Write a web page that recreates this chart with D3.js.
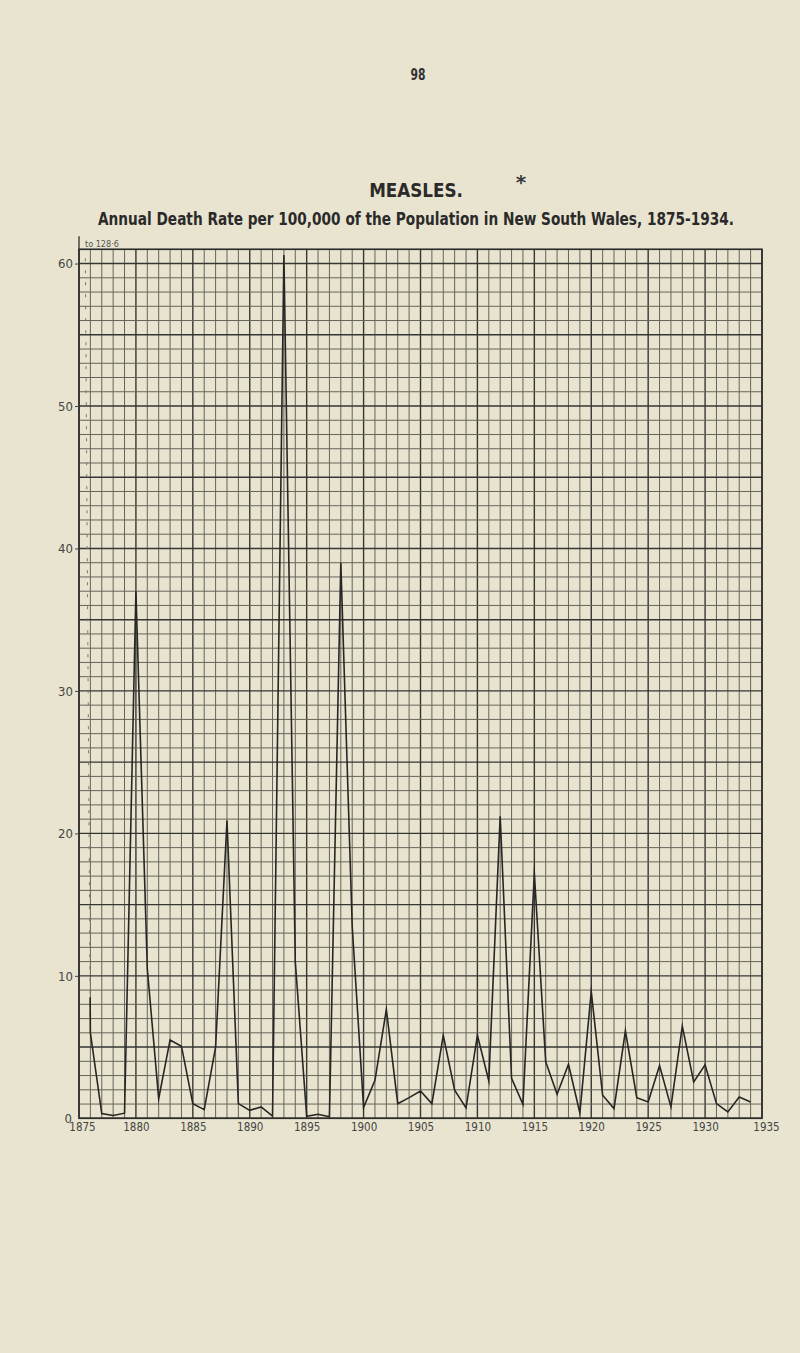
<!DOCTYPE html>
<html>
<head>
<meta charset="utf-8">
<script src="https://cdn.jsdelivr.net/npm/d3@7/dist/d3.min.js"></script>
<style>
  html, body { margin: 0; padding: 0; background: #e9e4cf; }
  svg { display: block; }
</style>
</head>
<body>
<svg id="chart" width="800" height="1353"></svg>
<script>
// ---- Data ----
const years = [1875,1876,1877,1878,1879,1880,1881,1882,1883,1884,
               1885,1886,1887,1888,1889,1890,1891,1892,1893,1894,
               1895,1896,1897,1898,1899,1900,1901,1902,1903,1904,
               1905,1906,1907,1908,1909,1910,1911,1912,1913,1914,
               1915,1916,1917,1918,1919,1920,1921,1922,1923,1924,
               1925,1926,1927,1928,1929,1930,1931,1932,1933,1934];
const deathRates = [128.6,6.0,0.33,0.2,0.36,37.0,10.5,1.38,5.5,5.06,
                    1.03,0.61,5.0,20.9,1.03,0.56,0.8,0.16,60.6,11.0,
                    0.14,0.28,0.1,39.0,13.5,0.75,2.67,7.64,1.03,1.45,
                    1.92,1.03,5.83,1.97,0.73,5.83,2.62,21.2,2.8,0.98,
                    17.2,3.96,1.69,3.79,0.37,8.9,1.62,0.68,6.14,1.45,
                    1.15,3.7,0.8,6.47,2.55,3.75,1.03,0.45,1.5,1.15];
const xTickLabels = [1875,1880,1885,1890,1895,1900,1905,1910,1915,1920,1925,1930,1935];
const yTickLabels = [0,10,20,30,40,50,60];
const pageNumber = "98";
const titleText = "MEASLES.";
const subtitleText = "Annual Death Rate per 100,000 of the Population in New South Wales, 1875-1934.";
const offChartNote = "to 128·6";

// ---- Layout ----
const svg = d3.select("#chart");
const pLeft = 79, pRight = 762, pTop = 249.3, pBottom = 1118.3;
const x = d3.scaleLinear().domain([1875, 1935]).range([pLeft, pRight]);
const y = d3.scaleLinear().domain([0, 61]).range([pBottom, pTop]);
const numFont = "'Liberation Sans Narrow', 'DejaVu Sans Condensed', 'Liberation Sans', sans-serif";

// Headings (condensed by horizontal scaling)
function condensedText(cx, cy, size, sx, txt, fill) {
  svg.append("g").attr("transform", `translate(${cx},${cy}) scale(${sx},1)`)
    .append("text").attr("x", 0).attr("y", 0).attr("text-anchor", "middle")
    .attr("font-family", numFont).attr("font-size", size).attr("font-weight", "bold")
    .attr("fill", fill).text(txt);
}
condensedText(418, 80, 15, 0.8, pageNumber, "#333");
condensedText(416, 197, 19, 0.98, titleText, "#2a2a2a");
condensedText(416, 225, 18, 0.845, subtitleText, "#2a2a2a");
svg.append("text").attr("x", 521).attr("y", 189).attr("text-anchor", "middle")
  .attr("font-family", "'DejaVu Sans', sans-serif").attr("font-size", 20).attr("font-weight", "bold")
  .attr("fill", "#3a3a3a").text("*");

// Grid
const grid = svg.append("g");
grid.selectAll("line.v").data(d3.range(1875, 1936)).join("line").attr("class", "v")
  .attr("x1", d => x(d)).attr("x2", d => x(d)).attr("y1", pTop).attr("y2", pBottom)
  .attr("stroke", d => d % 5 === 0 ? "#363634" : "#66635a")
  .attr("stroke-width", d => d % 5 === 0 ? 1.4 : 1);
grid.selectAll("line.h").data(d3.range(0, 62)).join("line").attr("class", "h")
  .attr("x1", pLeft).attr("x2", pRight).attr("y1", d => y(d)).attr("y2", d => y(d))
  .attr("stroke", d => d % 5 === 0 ? "#363634" : "#66635a")
  .attr("stroke-width", d => d % 5 === 0 ? 1.4 : 1);

// Frame
svg.append("rect").attr("x", pLeft).attr("y", pTop).attr("width", pRight - pLeft).attr("height", pBottom - pTop)
  .attr("fill", "none").attr("stroke", "#2e2e2c").attr("stroke-width", 1.6);
svg.append("line").attr("x1", pLeft).attr("x2", pLeft).attr("y1", pTop - 13).attr("y2", pTop)
  .attr("stroke", "#2e2e2c").attr("stroke-width", 1.3);

// Axes (labels)
const yAxis = d3.axisLeft(y).tickValues(yTickLabels).tickSize(4).tickPadding(2).tickFormat(d => d);
const gy = svg.append("g").attr("transform", `translate(${pLeft},0)`).call(yAxis);
gy.select(".domain").remove();
gy.selectAll(".tick line").attr("stroke", "#444").attr("stroke-width", 1);
gy.selectAll(".tick text").attr("font-family", numFont).attr("font-size", 13).attr("fill", "#444");
gy.selectAll(".tick").filter(d => d === 0).select("line").remove();
gy.selectAll(".tick").filter(d => d === 0).select("text").attr("x", -7);

const xAxis = d3.axisBottom(x).tickValues(xTickLabels).tickSize(0).tickPadding(5).tickFormat(d => d);
const gx = svg.append("g").attr("transform", `translate(0,${pBottom})`).call(xAxis);
gx.select(".domain").remove();
gx.selectAll(".tick text").attr("font-family", numFont).attr("font-size", 11.5).attr("fill", "#444")
  .attr("dx", d => d === 1875 ? 3 : (d === 1935 ? 4 : 0));

// Note for off-chart value
svg.append("text").attr("x", 85).attr("y", 247).attr("font-family", numFont).attr("font-size", 9)
  .attr("fill", "#555").text(offChartNote);

// Data line
const defs = svg.append("defs");
defs.append("clipPath").attr("id", "plotClip").append("rect")
  .attr("x", pLeft).attr("y", pTop + 2).attr("width", pRight - pLeft).attr("height", pBottom - pTop);
defs.append("clipPath").attr("id", "stubClip").append("rect")
  .attr("x", pLeft).attr("y", y(8.5)).attr("width", 40).attr("height", pBottom - y(8.5));
const pts = years.map((yr, i) => ({ yr, v: deathRates[i] }));
const line = d3.line().x(d => x(d.yr)).y(d => y(d.v));
const plot = svg.append("g").attr("clip-path", "url(#plotClip)");
// faint first segment (off-chart value)
plot.append("path").datum(pts.slice(0, 2)).attr("d", line)
  .attr("fill", "none").attr("stroke", "#7a776c").attr("stroke-width", 1).attr("stroke-dasharray", "3,9");
plot.append("path").datum(pts.slice(1)).attr("d", line)
  .attr("fill", "none").attr("stroke", "#262624").attr("stroke-width", 1.6)
  .attr("stroke-linejoin", "miter").attr("stroke-miterlimit", 20);
svg.append("g").attr("clip-path", "url(#stubClip)").append("path").datum(pts.slice(0, 2)).attr("d", line)
  .attr("fill", "none").attr("stroke", "#262624").attr("stroke-width", 1.6);
</script>
</body>
</html>
